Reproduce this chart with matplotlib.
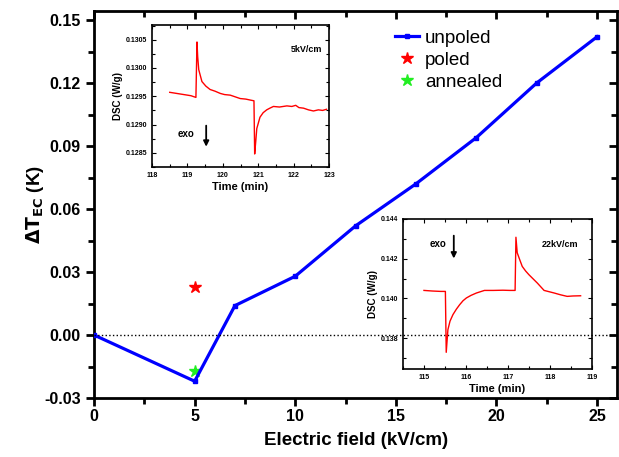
import numpy as np
import matplotlib
matplotlib.use("Agg")
import matplotlib.pyplot as plt

plt.rcParams['font.family'] = ['Liberation Sans', 'DejaVu Sans']

# main data
field = [0, 5, 7, 10, 13, 16, 19, 22, 25]
dT_unpoled = [0.0, -0.022, 0.014, 0.028, 0.052, 0.072, 0.094, 0.120, 0.142]
poled_x, poled_y = [5], [0.023]
ann_x, ann_y = [5], [-0.017]

# inset 1 (5 kV/cm)
t1 = [118.50, 118.70, 118.90, 119.10, 119.24, 119.27, 119.29, 119.32, 119.41, 119.52,
      119.64, 119.78, 119.93, 120.05, 120.21, 120.35, 120.49, 120.65, 120.80, 120.88,
      120.90, 120.93, 120.96, 121.05, 121.14, 121.24, 121.33, 121.43, 121.60, 121.81,
      121.95, 122.06, 122.15, 122.28, 122.42, 122.56, 122.70, 122.82, 122.93]
dsc1 = [0.12957, 0.12955, 0.12953, 0.12951, 0.12948, 0.13046, 0.13020, 0.12997, 0.12976, 0.12968,
        0.12962, 0.12959, 0.12955, 0.12953, 0.12952, 0.12949, 0.12946, 0.12945, 0.12943, 0.12942,
        0.12848, 0.12870, 0.12893, 0.12913, 0.12921, 0.12926, 0.12929, 0.12932, 0.12931, 0.12933,
        0.12932, 0.12934, 0.12930, 0.12929, 0.12926, 0.12924, 0.12926, 0.12925, 0.12927]

# inset 2 (22 kV/cm)
t2 = [115.00, 115.20, 115.40, 115.51, 115.53, 115.57, 115.62, 115.69, 115.77, 115.85,
      115.93, 116.01, 116.12, 116.25, 116.44, 116.65, 116.88, 117.05, 117.17, 117.19,
      117.22, 117.28, 117.34, 117.42, 117.50, 117.60, 117.70, 117.86, 118.10, 118.25,
      118.41, 118.55, 118.73]
dsc2 = [0.14040, 0.14037, 0.14035, 0.14035, 0.13728, 0.13842, 0.13885, 0.13918, 0.13945, 0.13968,
        0.13988, 0.14002, 0.14015, 0.14027, 0.14040, 0.14040, 0.14041, 0.14040, 0.14040, 0.14308,
        0.14230, 0.14195, 0.14161, 0.14138, 0.14119, 0.14098, 0.14077, 0.14040, 0.14027, 0.14018,
        0.14010, 0.14012, 0.14013]

fig = plt.figure(figsize=(6.19, 4.57), dpi=100)
ax = fig.add_axes([0.152, 0.129, 0.845, 0.847])

ax.axhline(0, color='black', linestyle=':', linewidth=1.0, zorder=5)
ax.plot(field, dT_unpoled, color='blue', lw=2.3, marker='s', ms=3.5, label='unpoled', zorder=3)
ax.plot(poled_x, poled_y, linestyle='none', marker='*', color='red', ms=9, label='poled', zorder=2)
ax.plot(ann_x, ann_y, linestyle='none', marker='*', color='#22ee22', ms=9, label='annealed', zorder=2)

ax.set_xlim(0, 26)
ax.set_ylim(-0.03, 0.1543)
ax.set_xticks([0, 5, 10, 15, 20, 25])
ax.set_xticks(np.arange(2.5, 26, 5), minor=True)
ax.set_yticks([-0.03, 0.0, 0.03, 0.06, 0.09, 0.12, 0.15])
ax.set_yticks(np.arange(-0.015, 0.16, 0.03), minor=True)
ax.set_yticklabels(['-0.03', '0.00', '0.03', '0.06', '0.09', '0.12', '0.15'])
for s in ax.spines.values():
    s.set_linewidth(2)
ax.tick_params(axis='both', which='major', direction='out', length=6, width=2, labelsize=11.5)
ax.tick_params(axis='both', which='minor', direction='out', length=4, width=2)
ax.tick_params(axis='x', which='major', pad=2)
for lab in ax.get_xticklabels() + ax.get_yticklabels():
    lab.set_fontweight('bold')
ax2 = ax.secondary_xaxis('top')
ax2.set_xticks([0, 5, 10, 15, 20, 25])
ax2.set_xticks(np.arange(2.5, 26, 5), minor=True)
ax2.tick_params(which='both', direction='in', width=2, labeltop=False)
ax2.tick_params(which='major', length=6)
ax2.tick_params(which='minor', length=4)
ay2 = ax.secondary_yaxis('right')
ay2.set_yticks([-0.03, 0.0, 0.03, 0.06, 0.09, 0.12, 0.15])
ay2.set_yticks(np.arange(-0.015, 0.16, 0.03), minor=True)
ay2.tick_params(which='both', direction='in', width=2, labelright=False)
ay2.tick_params(which='major', length=6)
ay2.tick_params(which='minor', length=4)

ax.set_xlabel('Electric field (kV/cm)', fontsize=13.5, fontweight='bold', labelpad=6)
ax.set_ylabel(r'$\mathbf{\Delta T_{EC}}$ (K)', fontsize=13.5, fontweight='bold', labelpad=-1)

ax.legend(loc='upper left', bbox_to_anchor=(0.55, 0.985), frameon=False, fontsize=13.5,
          handlelength=1.3, handletextpad=0.3, labelspacing=0.25, borderaxespad=0.3)


def style_inset(a):
    for s in a.spines.values():
        s.set_linewidth(1.2)
    a.tick_params(which='both', direction='in', top=True, right=True, labelsize=5, width=0.8)
    a.tick_params(which='major', length=3)
    a.tick_params(which='minor', length=2)
    for lab in a.get_xticklabels() + a.get_yticklabels():
        lab.set_fontweight('bold')
    a.set_xlabel('Time (min)', fontsize=8, fontweight='bold', labelpad=2)
    a.set_ylabel('DSC (W/g)', fontsize=7, fontweight='bold', labelpad=2)


# inset 1
in1 = fig.add_axes([0.2456, 0.6346, 0.2859, 0.3107])
in1.plot(t1, dsc1, color='red', lw=1)
in1.set_xlim(118, 123)
in1.set_ylim(0.12827, 0.13076)
in1.set_xticks([118, 119, 120, 121, 122, 123])
in1.set_xticks(np.arange(118.5, 123, 1), minor=True)
in1.set_yticks([0.1285, 0.1290, 0.1295, 0.1300, 0.1305])
in1.set_yticks(np.arange(0.12825, 0.1308, 0.0005), minor=True)
in1.set_yticklabels(['0.1285', '0.1290', '0.1295', '0.1300', '0.1305'])
style_inset(in1)
in1.text(122.37, 0.13032, '5kV/cm', fontsize=6.5, fontweight='bold', ha='center', va='center')
in1.text(118.97, 0.12883, 'exo', fontsize=7, fontweight='bold', ha='center', va='center')
in1.annotate('', xy=(119.53, 0.12856), xytext=(119.53, 0.12903),
             arrowprops=dict(arrowstyle='-|>', color='black', lw=1.3, mutation_scale=8))

# inset 2
in2 = fig.add_axes([0.651, 0.1926, 0.3053, 0.3282])
in2.patch.set_alpha(0)
in2.plot(t2, dsc2, color='red', lw=1)
in2.set_xlim(114.5, 119)
in2.set_ylim(0.13644, 0.144)
in2.set_xticks([115, 116, 117, 118, 119])
in2.set_xticks(np.arange(114.5, 119, 1), minor=True)
in2.set_yticks([0.138, 0.140, 0.142, 0.144])
in2.set_yticks([0.137, 0.139, 0.141, 0.143], minor=True)
in2.set_yticklabels(['0.138', '0.140', '0.142', '0.144'])
style_inset(in2)
in2.text(115.33, 0.14274, 'exo', fontsize=7, fontweight='bold', ha='center', va='center')
in2.text(118.23, 0.14271, '22kV/cm', fontsize=6.5, fontweight='bold', ha='center', va='center')
in2.annotate('', xy=(115.71, 0.14187), xytext=(115.71, 0.14330),
             arrowprops=dict(arrowstyle='-|>', color='black', lw=1.3, mutation_scale=8))

fig.savefig('out.png', dpi=100)
